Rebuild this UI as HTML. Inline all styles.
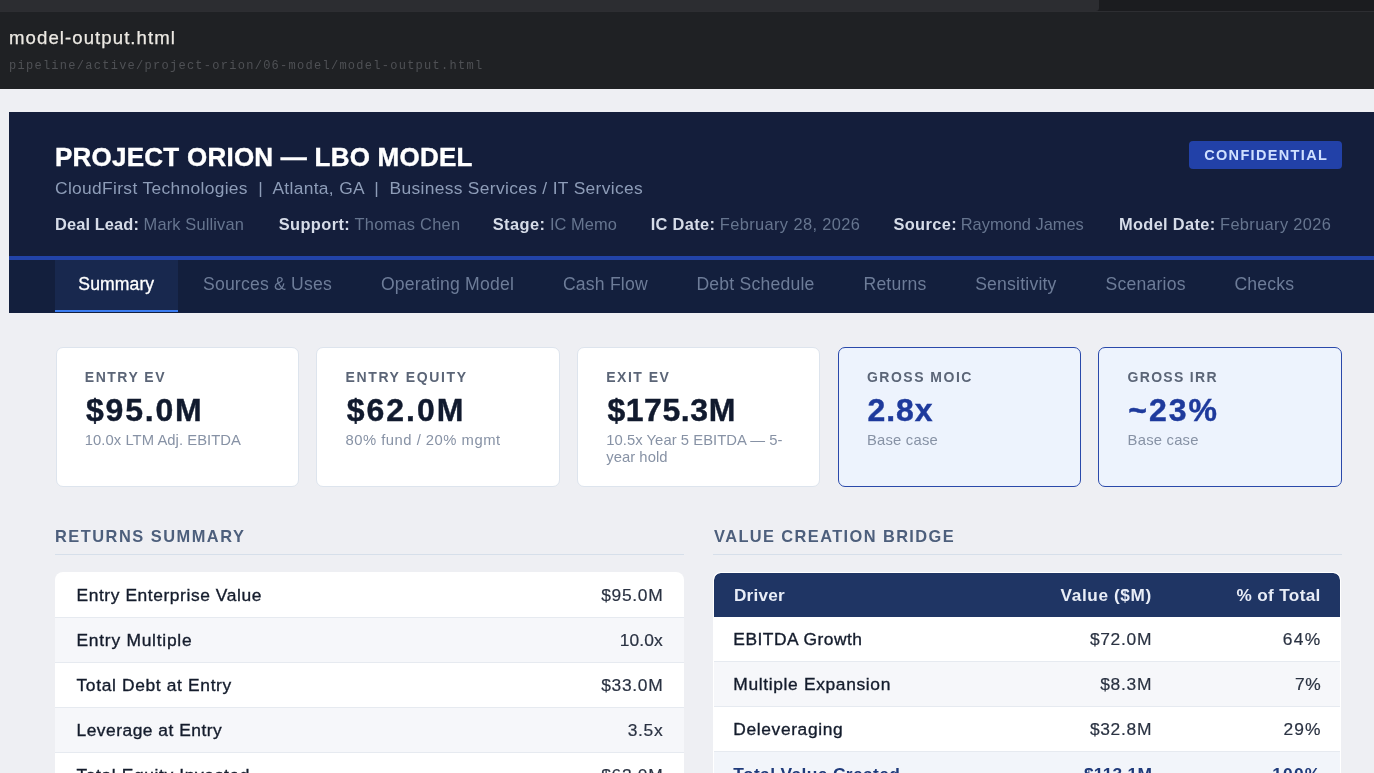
<!DOCTYPE html>
<html lang="en">
<head>
<meta charset="utf-8">
<title>model-output.html</title>
<style>
*{box-sizing:border-box;margin:0;padding:0}
html,body{width:1374px;height:773px;overflow:hidden}
body{position:relative;background:#eeeff3;font-family:"Liberation Sans",Arial,sans-serif;color:#111a2e;-webkit-font-smoothing:antialiased}
.abs{position:absolute;white-space:nowrap;line-height:1}

/* viewer chrome */
.strip{position:absolute;left:0;top:0;width:1374px;height:12px;background:#1b1c1f;border-bottom:1px solid #2d2e32}
.strip .tab{position:absolute;left:0;top:0;width:1099px;height:11px;background:#2c2d31;border-bottom-right-radius:3px}
.filebar{position:absolute;left:0;top:12px;width:1374px;height:77px;background:#1f2124}
.fname{left:9px;top:28.5px;font-size:18.6px;color:#ece9e3;letter-spacing:1.07px;-webkit-text-stroke:.25px #ece9e3}
.fpath{left:9px;top:59.5px;font-family:"Liberation Mono",monospace;font-size:12px;color:#4f5155;letter-spacing:1.27px}

/* deal header */
.hero{position:absolute;left:9px;top:112px;width:1380px;height:200.7px;background:#141e3b;overflow:hidden}
.hero .rule{position:absolute;left:0;top:143.7px;width:100%;height:4.5px;background:#2243a8}
.hero .nav{position:absolute;left:0;top:148.2px;width:100%;height:52.5px;background:#131f3d}
.title{left:46px;top:32.4px;font-size:26px;font-weight:700;color:#fff;letter-spacing:.24px;-webkit-text-stroke:.4px #fff}
.sub{left:46px;top:67.7px;font-size:17.4px;letter-spacing:.33px;color:#8e9db8}
.meta{position:absolute;left:46px;top:104px;display:flex;font-size:16.4px;line-height:1;white-space:nowrap}
.meta div{flex:none}
.meta b{color:#d6dce8;font-weight:700;letter-spacing:.28px}
.meta span{color:#66758f;letter-spacing:.25px}
.badge{position:absolute;left:1180px;top:29px;width:153px;height:28px;border-radius:4px;background:#2241a8;color:#cfe0ff;font-size:14.5px;font-weight:700;letter-spacing:1.34px;text-indent:1.34px;text-align:center;line-height:28px}
.tabs{position:absolute;left:0;top:0;height:52px;width:100%}
.tabs a{position:absolute;top:0;display:block;height:52px;font-size:17.6px;letter-spacing:.2px;line-height:49px;color:#6d7c98;white-space:nowrap;text-decoration:none;text-align:center}
.tabs a.on{background:#18284e;letter-spacing:.1px;color:#fff;border-bottom:2.3px solid #3b7cf0;-webkit-text-stroke:.3px #fff}

/* KPI cards */
.kpis{position:absolute;left:55.5px;top:347px;width:1286.3px;display:flex;gap:17.2px}
.kpi{position:relative;flex:1;height:140px;background:#fff;border:1px solid #dde4ed;border-radius:7px}
.kpi.hl{background:#edf3fd;border:1.2px solid #2a49aa}
.kpi .l{position:absolute;left:28.3px;top:22px;font-size:14px;font-weight:700;letter-spacing:1.5px;color:#5b6577;line-height:1;white-space:nowrap}
.kpi .v{position:absolute;left:29.5px;top:45.9px;font-size:32px;font-weight:700;color:#111a2e;-webkit-text-stroke:.42px currentColor;line-height:1;white-space:nowrap}
.kpi.hl .v{color:#1e3a9c}
.kpi .s{position:absolute;left:28.3px;top:84px;font-size:14.8px;letter-spacing:.05px;color:#8792a5;line-height:17px;width:200px}

/* sections */
.sec{position:absolute;top:527.4px;width:628.8px;height:27.7px;border-bottom:1px solid #d6dfea}
.sec h2{font-size:16.4px;font-weight:700;letter-spacing:1.5px;color:#4d5f7c;line-height:18px;white-space:nowrap}
.tbl{position:absolute;top:572px;width:628px;background:#fff;border-radius:8px 8px 0 0;overflow:hidden}
.row{display:flex;justify-content:space-between;align-items:center;height:45px;padding:1px 21px 0 21.5px;font-size:17.4px;border-bottom:1px solid #e6eaf0;white-space:nowrap}
.row:nth-child(even){background:#f6f7fa}
.row:first-child{height:46px;padding-top:2.5px}
.row .k{font-weight:400;color:#141c2c;-webkit-text-stroke:.35px #141c2c;letter-spacing:.5px}
.row .n{color:#2a3242;letter-spacing:.7px;margin-right:-.7px;-webkit-text-stroke:.2px #2a3242}
.thead{display:flex;align-items:center;height:44.2px;border-radius:6.5px 6.5px 0 0;padding:0 18.6px 0 19.6px;background:#1f3564;color:#e8edf7;font-size:17.2px;letter-spacing:.5px;font-weight:700;white-space:nowrap}
.r3{display:flex;align-items:center;height:45px;padding:1.5px 18.9px 0 18.9px;-webkit-text-stroke:.2px #2a3242;font-size:17.4px;letter-spacing:.7px;border-bottom:1px solid #e6eaf0;white-space:nowrap;background:#fff;color:#2a3242}
.r3.alt{background:#f6f7fa}
.r3.tot{background:#f2f5fa;color:#1f3a7a;font-weight:700;-webkit-text-stroke:0}
.c1{flex:1}.c2{width:170px;text-align:right;margin-right:-.6px}.c3{width:170px;text-align:right}
.r3 .c1{color:#141c2c;-webkit-text-stroke:.35px #141c2c;letter-spacing:.5px}
.r3.tot .c1{color:#1f3a7a;-webkit-text-stroke:0}
</style>
</head>
<body>

<div class="strip"><div class="tab"></div></div>
<div class="filebar"></div>
<div class="abs fname">model-output.html</div>
<div class="abs fpath">pipeline/active/project-orion/06-model/model-output.html</div>

<div class="hero">
  <div class="abs title">PROJECT ORION — LBO MODEL</div>
  <div class="abs sub">CloudFirst Technologies &nbsp;|&nbsp; Atlanta, GA &nbsp;|&nbsp; Business Services / IT Services</div>
  <div class="badge">CONFIDENTIAL</div>
  <div class="meta">
    <div style="width:223.8px"><b style="letter-spacing:0.11px">Deal Lead:</b> <span style="letter-spacing:0.16px">Mark Sullivan</span></div>
    <div style="width:213.9px"><b style="letter-spacing:0.37px">Support:</b> <span style="letter-spacing:0.25px">Thomas Chen</span></div>
    <div style="width:158.0px"><b style="letter-spacing:0.42px">Stage:</b> <span style="letter-spacing:0.09px">IC Memo</span></div>
    <div style="width:242.7px"><b style="letter-spacing:0.32px">IC Date:</b> <span style="letter-spacing:0.39px">February 28, 2026</span></div>
    <div style="width:225.6px"><b style="letter-spacing:0.37px">Source:</b> <span style="letter-spacing:0;margin-left:-.8px">Raymond James</span></div>
    <div style="width:260.0px"><b style="letter-spacing:0.33px">Model Date:</b> <span style="letter-spacing:0.35px">February 2026</span></div>
  </div>
  <div class="rule"></div>
  <div class="nav">
    <div class="tabs">
      <a class="on" style="left:45.8px;width:123.0px">Summary</a><a style="left:170.9px;width:175.1px">Sources &amp; Uses</a><a style="left:348.8px;width:179.4px">Operating Model</a><a style="left:530.9px;width:131.0px">Cash Flow</a><a style="left:664.4px;width:164.2px">Debt Schedule</a><a style="left:831.3px;width:109.4px">Returns</a><a style="left:942.6px;width:128.6px">Sensitivity</a><a style="left:1073.4px;width:126.5px">Scenarios</a><a style="left:1202.3px;width:106.1px">Checks</a>
    </div>
  </div>
</div>

<div class="kpis">
  <div class="kpi"><div class="l">ENTRY EV</div><div class="v" style="letter-spacing:1.8px">$95.0M</div><div class="s">10.0x LTM Adj. EBITDA</div></div>
  <div class="kpi"><div class="l" style="letter-spacing:1.63px">ENTRY EQUITY</div><div class="v" style="letter-spacing:2px">$62.0M</div><div class="s" style="letter-spacing:.5px">80% fund / 20% mgmt</div></div>
  <div class="kpi"><div class="l">EXIT EV</div><div class="v" style="letter-spacing:.56px">$175.3M</div><div class="s">10.5x Year 5 EBITDA — 5-<br>year hold</div></div>
  <div class="kpi hl"><div class="l">GROSS MOIC</div><div class="v" style="letter-spacing:.85px;margin-left:-.5px">2.8x</div><div class="s" style="letter-spacing:.22px">Base case</div></div>
  <div class="kpi hl"><div class="l" style="letter-spacing:1.29px">GROSS IRR</div><div class="v" style="letter-spacing:2px;margin-left:-.5px">~23%</div><div class="s" style="letter-spacing:.22px">Base case</div></div>
</div>

<div class="sec" style="left:55px"><h2>RETURNS SUMMARY</h2></div>
<div class="tbl" style="left:55px;width:628.7px">
  <div class="row"><span class="k" style="letter-spacing:.58px">Entry Enterprise Value</span><span class="n">$95.0M</span></div>
  <div class="row"><span class="k" style="letter-spacing:.75px">Entry Multiple</span><span class="n" style="letter-spacing:.1px;margin-right:-.1px">10.0x</span></div>
  <div class="row"><span class="k" style="letter-spacing:.65px">Total Debt at Entry</span><span class="n">$33.0M</span></div>
  <div class="row"><span class="k">Leverage at Entry</span><span class="n">3.5x</span></div>
  <div class="row"><span class="k" style="letter-spacing:.62px">Total Equity Invested</span><span class="n">$62.0M</span></div>
</div>

<div class="sec" style="left:713.2px"><h2 style="letter-spacing:1.4px;padding-left:.9px">VALUE CREATION BRIDGE</h2></div>
<div class="tbl" style="left:713.4px;top:572px;width:628px;border:.8px solid #fff;border-bottom:0">
  <div class="thead"><span class="c1" style="letter-spacing:.2px">Driver</span><span class="c2" style="margin-right:-1.1px;letter-spacing:.62px">Value ($M)</span><span class="c3" style="margin-right:1.1px;letter-spacing:.34px">% of Total</span></div>
  <div class="r3"><span class="c1">EBITDA Growth</span><span class="c2">$72.0M</span><span class="c3" style="letter-spacing:1.3px">64%</span></div>
  <div class="r3 alt"><span class="c1" style="letter-spacing:.65px">Multiple Expansion</span><span class="c2">$8.3M</span><span class="c3">7%</span></div>
  <div class="r3"><span class="c1" style="letter-spacing:.63px">Deleveraging</span><span class="c2">$32.8M</span><span class="c3" style="letter-spacing:1.05px">29%</span></div>
  <div class="r3 tot"><span class="c1" style="letter-spacing:.36px">Total Value Created</span><span class="c2" style="letter-spacing:.2px">$113.1M</span><span class="c3" style="letter-spacing:1.2px">100%</span></div>
</div>

</body>
</html>
